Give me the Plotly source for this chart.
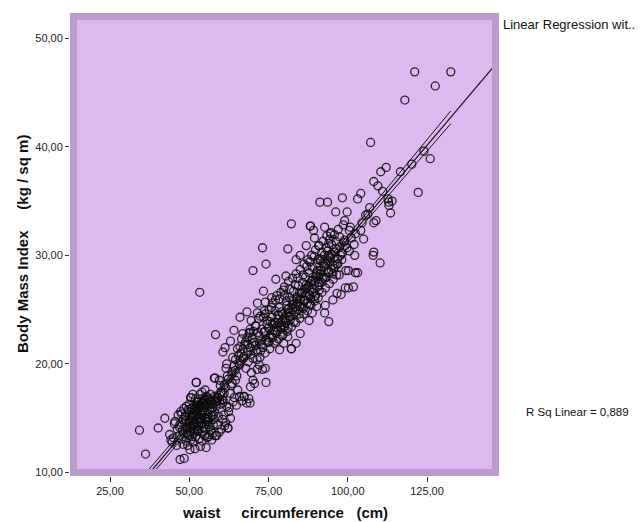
import numpy as np
import plotly.graph_objects as go

# ---- data: waist circumference (cm) and BMI (kg/sq m) ----
waist = [
    34.3, 36.2, 40.2, 42.3, 43.8, 44.6, 45.3, 45.0, 44.2, 46.0,
    47.1, 48.4, 50.2, 51.8, 53.5, 55.3, 46.8, 47.5, 48.0, 49.0,
    49.6, 50.5, 51.2, 52.0, 52.6, 53.1, 54.0, 54.8, 55.6, 56.4,
    46.2, 47.0, 47.8, 48.5, 49.3, 50.0, 50.8, 51.5, 52.3, 53.0,
    53.8, 54.5, 55.2, 56.0, 56.8, 57.5, 58.2, 48.8, 49.8, 50.7,
    51.3, 52.1, 52.8, 53.6, 54.3, 55.0, 55.8, 56.5, 57.2, 58.0,
    47.6, 48.3, 49.1, 50.0, 50.9, 51.7, 52.5, 53.3, 54.1, 54.9,
    55.7, 56.6, 57.4, 58.3, 59.1, 59.9, 60.7, 50.4, 51.1, 52.0,
    52.9, 53.7, 54.6, 55.4, 56.2, 57.0, 57.9, 58.7, 59.6, 60.4,
    49.4, 50.3, 51.4, 52.4, 53.2, 54.2, 55.1, 56.0, 45.5, 46.5,
    47.3, 48.1, 49.0, 51.0, 52.7, 54.5, 56.3, 57.8, 59.0, 61.2,
    57.1, 58.6, 59.4, 60.2, 61.5, 62.2, 63.0, 62.4, 60.9, 61.8,
    52.2, 53.4, 52.0, 50.6, 54.0, 55.5, 46.9, 48.6, 58.5, 57.6,
    62.6, 63.8, 64.9, 65.8, 66.6, 67.3, 68.1, 69.2, 68.8, 64.2,
    62.2, 60.5, 61.0, 59.8, 58.1, 56.7, 55.0, 53.9, 51.9, 50.1,
    60.6, 61.3, 63.0, 64.1, 65.0, 66.0, 66.3, 66.9, 68.2, 69.2,
    70.1, 71.4, 72.1, 71.4, 73.1, 74.0, 69.2, 70.8, 62.0, 63.5,
    64.6, 65.7, 67.2, 67.9, 68.6, 69.6, 58.3, 64.1, 66.0, 67.3,
    68.2, 70.1, 70.6, 74.2, 52.2, 57.9, 69.3, 72.5, 61.8, 63.2,
    70.5, 71.2, 72.0, 72.8, 73.5, 74.3, 75.0, 75.8, 76.5, 77.3,
    78.0, 78.8, 79.5, 80.3, 81.0, 81.8, 82.5, 83.3, 84.0, 84.8,
    85.5, 86.3, 87.0, 87.8, 88.5, 89.3, 90.0, 90.8, 91.5, 92.3,
    93.0, 93.8, 94.5, 95.3, 96.0, 96.8, 97.5, 98.3, 99.0, 99.8,
    71.0, 72.4, 73.7, 75.2, 76.2, 77.6, 78.9, 80.0, 81.3, 82.6,
    83.7, 85.0, 86.2, 87.4, 88.6, 89.8, 91.0, 92.2, 93.4, 94.6,
    72.3, 73.9, 75.4, 76.8, 78.2, 79.6, 80.9, 82.2, 83.6, 84.9,
    86.1, 87.3, 88.4, 89.6, 90.7, 91.9, 93.0, 94.2, 95.4, 96.5,
    74.6, 76.0, 77.0, 78.4, 79.2, 80.6, 81.6, 82.9, 84.4, 85.7,
    86.7, 87.7, 88.9, 90.3, 91.2, 92.6, 93.6, 94.9, 96.2, 97.4,
    73.2, 74.8, 76.3, 77.8, 79.0, 80.4, 81.9, 83.0, 84.3, 85.3,
    86.5, 88.0, 89.1, 90.5, 91.7, 92.8, 94.0, 95.6, 96.9, 98.1,
    73.1, 74.2, 70.1, 81.1, 82.2, 77.3, 80.5, 73.4, 71.5, 74.0,
    76.0, 79.8, 71.5, 69.5, 68.9, 83.7, 85.0, 86.9, 88.2, 89.2,
    89.5, 91.2, 93.6, 92.7, 94.6, 94.0, 90.8, 87.8, 88.8, 90.2,
    92.7, 94.0, 92.9, 95.3, 96.6, 97.9, 99.2, 100.2, 101.8, 99.4,
    100.2, 102.4, 103.1, 102.2, 108.2, 108.0, 110.2, 85.0, 83.7, 82.2,
    81.1, 78.5, 79.8, 98.3, 99.8, 96.2, 99.0, 100.5, 102.4, 104.1,
    105.0, 104.1, 103.1, 105.6, 106.9, 108.2, 108.9, 101.1, 99.2, 100.5,
    97.9, 96.6, 95.3, 97.3, 107.2, 112.1, 110.4, 108.2, 109.5, 112.7,
    112.9, 113.5, 116.6, 120.2, 124.0, 126.0, 122.2, 118.0, 121.1, 127.6,
    132.5, 53.3, 82.2, 88.2, 114.0, 113.0, 106.3, 111.0, 104.5, 102.0,
    75.5, 76.7, 77.9, 79.1, 80.2, 81.4, 82.7, 83.9, 85.1, 86.4,
    87.6, 88.8, 90.1, 91.3, 92.5, 93.7, 95.0, 96.3, 97.7, 98.8,
    77.5, 79.3, 81.2, 83.1, 84.6, 86.0, 87.2, 88.3, 89.9, 91.0,
    74.0, 75.9, 77.2, 78.6, 80.0, 81.7, 83.4, 84.2, 85.9, 87.1,
    88.0, 89.4, 90.6, 91.8, 93.2, 94.4, 95.8, 97.0, 98.6, 100.8,
    65.5, 67.0, 68.5, 69.9, 71.7, 72.9, 74.5, 66.1, 67.7, 69.4,
    70.9, 72.6, 73.8, 75.1, 76.4, 77.6, 78.9, 80.1, 81.5, 82.8,
    84.1, 85.6, 86.8, 88.1, 89.5, 90.9, 92.0, 93.3, 94.7, 96.0,
    49.9, 50.8, 51.6, 52.4, 53.2, 54.0, 54.8, 55.6, 52.6, 53.9,
    48.2, 49.5, 50.9, 51.9, 53.0, 54.4, 55.9, 57.3, 58.8, 60.1,
    56.1, 57.6, 59.2, 60.6, 61.4, 62.9, 63.6, 64.6, 65.3, 59.6,
    49.2, 50.1, 51.0, 51.8, 52.6, 53.4, 54.2, 55.0, 55.8, 56.6,
    50.6, 51.5, 52.3, 53.1, 53.9, 54.7, 49.7, 48.9, 56.3, 57.0,
    58.9, 60.0, 61.1, 62.3, 63.4, 64.5, 65.9, 67.0, 68.4, 69.7,
    59.5, 61.6, 63.7, 65.2, 66.5, 67.6, 69.0, 70.3, 71.9, 73.4,
    76.1, 78.3, 80.8, 82.4, 84.8, 86.9, 89.0, 90.4, 92.1, 94.3,
    75.3, 77.1, 79.9, 81.5, 83.8, 85.4, 87.9, 89.7, 91.4, 93.9,
]
bmi = [
    13.9, 11.7, 14.1, 15.0, 13.5, 12.8, 14.5, 13.2, 13.0, 12.5,
    11.2, 11.3, 12.1, 12.2, 12.4, 12.3, 13.4, 13.1, 12.6, 12.9,
    13.5, 13.0, 12.8, 13.3, 13.8, 13.1, 12.9, 13.4, 13.2, 13.5,
    14.0, 14.4, 13.9, 14.6, 14.2, 14.8, 14.1, 14.5, 14.9, 14.3,
    14.6, 14.2, 14.9, 14.4, 13.9, 13.6, 13.4, 15.2, 15.6, 15.0,
    15.5, 15.2, 15.8, 15.3, 15.7, 15.1, 15.4, 15.9, 15.2, 15.6,
    15.4, 15.9, 16.1, 16.3, 15.9, 16.2, 16.5, 16.0, 16.4, 16.7,
    16.2, 16.6, 16.0, 16.5, 16.9, 16.3, 16.7, 16.9, 17.2, 16.8,
    16.5, 16.2, 16.7, 16.3, 16.8, 16.5, 17.0, 16.6, 17.1, 16.7,
    13.7, 14.3, 13.6, 14.0, 15.0, 13.8, 14.0, 14.7, 14.7, 15.3,
    15.6, 14.9, 14.8, 15.4, 14.0, 16.0, 15.0, 14.9, 14.4, 14.3,
    13.0, 13.4, 13.7, 14.0, 14.6, 14.1, 15.0, 15.6, 15.3, 16.1,
    18.3, 17.2, 15.6, 16.9, 17.4, 17.0, 14.2, 15.1, 16.1, 15.3,
    16.0, 16.5, 16.2, 17.0, 16.6, 17.0, 16.4, 16.4, 16.8, 16.9,
    14.1, 14.9, 17.3, 18.0, 18.7, 17.2, 17.6, 16.8, 14.6, 13.4,
    21.1, 21.5, 22.1, 19.8, 18.9, 21.6, 21.0, 22.8, 22.4, 21.5,
    20.5, 20.4, 19.9, 19.5, 19.5, 19.6, 23.2, 23.5, 18.9, 19.3,
    20.4, 20.0, 20.7, 19.6, 20.2, 19.2, 22.7, 23.1, 24.3, 17.0,
    24.8, 18.5, 18.2, 18.3, 18.3, 18.7, 17.9, 21.2, 20.0, 18.0,
    22.0, 21.3, 22.6, 21.8, 22.9, 22.2, 23.3, 22.5, 23.6, 22.9,
    24.1, 23.4, 24.6, 24.0, 25.0, 24.4, 25.5, 24.8, 26.0, 25.3,
    26.5, 25.8, 27.0, 26.4, 27.6, 26.9, 28.1, 27.5, 28.6, 28.0,
    29.2, 28.5, 29.8, 29.1, 30.3, 29.7, 30.8, 30.2, 31.4, 30.7,
    23.5, 24.4, 24.9, 25.0, 25.6, 26.3, 26.6, 27.1, 27.6, 27.9,
    28.3, 28.7, 29.2, 29.6, 30.0, 30.5, 30.9, 31.3, 31.8, 32.1,
    20.6, 21.0, 21.4, 21.9, 22.3, 22.7, 23.0, 23.4, 23.8, 24.2,
    24.6, 24.9, 25.4, 25.8, 26.1, 26.6, 27.0, 27.4, 27.8, 28.2,
    24.0, 24.3, 24.9, 25.2, 23.6, 25.8, 26.1, 26.7, 27.2, 27.5,
    28.0, 28.4, 28.9, 29.3, 29.7, 30.0, 30.4, 31.0, 31.3, 31.7,
    21.5, 22.0, 22.4, 23.0, 23.2, 23.8, 24.1, 24.5, 25.0, 25.5,
    25.9, 26.3, 26.6, 27.1, 27.5, 27.9, 28.4, 28.8, 29.2, 29.6,
    30.7, 29.2, 28.6, 30.6, 32.9, 27.8, 28.1, 26.7, 25.6, 25.7,
    26.1, 26.8, 24.7, 24.0, 22.8, 29.6, 30.0, 30.9, 32.7, 32.3,
    31.6, 34.9, 34.9, 32.6, 32.0, 31.1, 30.9, 24.0, 24.7, 25.3,
    24.7, 23.9, 25.4, 25.9, 26.5, 26.4, 27.0, 27.0, 27.1, 28.6,
    28.6, 28.4, 28.4, 30.0, 30.3, 30.0, 29.3, 22.8, 21.9, 21.4,
    22.5, 21.3, 21.9, 35.3, 34.0, 34.0, 33.2, 32.3, 32.0, 32.3,
    31.5, 35.7, 35.2, 33.7, 34.4, 33.0, 33.2, 31.6, 30.9, 30.4,
    30.2, 29.2, 28.3, 28.2, 40.4, 38.1, 37.7, 36.8, 36.4, 35.2,
    34.9, 33.9, 37.7, 38.4, 39.6, 38.9, 35.8, 44.3, 46.9, 45.6,
    46.9, 26.6, 21.4, 32.7, 35.0, 34.6, 33.8, 35.9, 33.0, 31.0,
    23.9, 23.1, 24.5, 24.8, 24.2, 25.1, 25.0, 26.2, 26.0, 26.9,
    27.2, 27.7, 28.4, 28.3, 29.0, 29.5, 30.1, 30.6, 30.0, 31.2,
    22.1, 22.6, 23.3, 23.9, 24.6, 25.1, 25.6, 26.0, 26.3, 26.8,
    24.6, 25.2, 25.9, 26.0, 26.3, 26.9, 27.3, 27.9, 28.2, 29.0,
    29.4, 29.9, 29.6, 30.3, 30.7, 31.5, 31.9, 32.4, 32.8, 32.6,
    20.8, 21.4, 21.8, 22.4, 22.9, 23.2, 23.7, 20.3, 22.0, 20.9,
    21.7, 22.1, 23.0, 22.0, 22.7, 23.4, 23.8, 23.5, 24.7, 25.8,
    25.6, 25.2, 26.3, 25.5, 26.2, 27.3, 27.8, 28.0, 28.7, 29.0,
    14.5, 15.3, 14.4, 15.7, 14.7, 15.5, 14.5, 14.7, 16.0, 16.2,
    13.6, 12.5, 13.3, 15.9, 16.2, 16.4, 16.7, 16.3, 16.6, 17.4,
    13.3, 14.4, 15.2, 16.4, 17.8, 17.3, 18.2, 18.5, 17.6, 16.6,
    14.0, 14.6, 15.1, 14.2, 15.4, 14.9, 16.0, 15.6, 15.0, 16.3,
    15.9, 13.8, 16.2, 13.9, 15.0, 16.5, 15.8, 14.1, 14.2, 15.8,
    16.9, 17.4, 18.1, 18.6, 19.0, 19.4, 19.9, 20.5, 21.1, 21.9,
    18.5, 19.6, 20.6, 21.4, 22.3, 21.8, 22.9, 23.0, 24.2, 24.3,
    23.7, 24.5, 25.4, 25.9, 26.6, 27.3, 28.0, 28.6, 29.3, 29.9,
    22.4, 23.8, 23.4, 24.3, 25.3, 26.5, 26.8, 27.6, 29.5, 30.0,
]

x_tickvals = [25, 50, 75, 100, 125]
x_ticktext = ["25,00", "50,00", "75,00", "100,00", "125,00"]
y_tickvals = [10, 20, 30, 40, 50]
y_ticktext = ["10,00", "20,00", "30,00", "40,00", "50,00"]
r_sq_label = "R Sq Linear = 0,889"
legend_label = "Linear Regression wit.."

# ---- regression and 95% mean confidence band ----
xa = np.array(waist)
ya = np.array(bmi)
n = len(xa)
slope, intercept = np.polyfit(xa, ya, 1)
resid = ya - (intercept + slope * xa)
s = np.sqrt(np.sum(resid ** 2) / (n - 2))
xbar = xa.mean()
sxx = np.sum((xa - xbar) ** 2)
t = 1.965

x_rng = [12.38, 147.7]
y_rng = [9.68, 52.32]

x_fit = np.array(x_rng)
y_fit = intercept + slope * x_fit
x_ci = np.linspace(xa.min(), xa.max(), 60)
half = t * s * np.sqrt(1 / n + (x_ci - xbar) ** 2 / sxx)
y_mid = intercept + slope * x_ci

fig = go.Figure()
fig.add_trace(go.Scatter(
    x=waist, y=bmi, mode="markers",
    marker=dict(symbol="circle-open", size=8, color="rgba(10,10,10,0.85)",
                line=dict(width=1.3, color="rgba(10,10,10,0.85)")),
    showlegend=False, hoverinfo="skip"))
for yy in (y_mid + half, y_mid - half):
    fig.add_trace(go.Scatter(x=x_ci, y=yy, mode="lines",
                             line=dict(color="#111111", width=1), showlegend=False))
fig.add_trace(go.Scatter(x=x_fit, y=y_fit, mode="lines",
                         line=dict(color="#111111", width=1.2), showlegend=False))

# page body has an 8px margin: figure origin sits at screen (8, 8)
OFF = 8
W, H = 643 - OFF, 522 - OFF
PX0, PX1, PY0, PY1 = 70, 499, 13, 476  # plot frame on screen
ml, mr, mt, mb = PX0 - OFF, W - (PX1 - OFF), PY0 - OFF, H - (PY1 - OFF)
pw, ph = PX1 - PX0, PY1 - PY0


def px(sx):
    return (sx - PX0) / pw


def py(sy):
    return (PY1 - sy) / ph


bw = 7
fig.add_shape(type="rect", xref="paper", yref="paper",
              x0=(bw / 2) / pw, x1=1 - (bw / 2) / pw,
              y0=(bw / 2) / ph, y1=1 - (bw / 2) / ph,
              line=dict(color="#BB9CCB", width=bw), fillcolor="rgba(0,0,0,0)",
              layer="above")

tick_font = dict(family="Liberation Sans, Arial, sans-serif", size=11, color="#222222")
fig.update_layout(
    width=W, height=H, margin=dict(l=ml, r=mr, t=mt, b=mb, pad=0),
    paper_bgcolor="white", plot_bgcolor="#DEB9F1",
    xaxis=dict(range=x_rng, tickvals=x_tickvals, ticktext=x_ticktext,
               showgrid=False, zeroline=False, showline=False,
               ticks="outside", ticklen=5, tickcolor="#333333", tickwidth=1,
               tickfont=tick_font),
    yaxis=dict(range=y_rng, tickvals=y_tickvals, ticktext=y_ticktext,
               showgrid=False, zeroline=False, showline=False,
               ticks="outside", ticklen=4, tickcolor="#333333", tickwidth=1,
               tickfont=tick_font),
    showlegend=False,
)

nb = "\u00a0"
title_font = dict(family="Liberation Sans, Arial, sans-serif", size=15, color="#111111")
fig.add_annotation(text="<b>waist" + nb * 5 + "circumference" + nb * 3 + "(cm)</b>",
                   xref="paper", yref="paper", x=px(285), y=py(512),
                   xanchor="center", yanchor="middle", showarrow=False, font=title_font)
fig.add_annotation(text="<b>Body Mass Index" + nb * 5 + "(kg / sq m)</b>", textangle=-90,
                   xref="paper", yref="paper", x=px(22), y=py(244),
                   xanchor="center", yanchor="middle", showarrow=False, font=title_font)
fig.add_annotation(text=legend_label, xref="paper", yref="paper",
                   x=px(501), y=py(24),
                   xanchor="left", yanchor="middle", showarrow=False,
                   font=dict(family="Liberation Sans, Arial, sans-serif", size=13, color="#111111"))
fig.add_annotation(text=r_sq_label, xref="paper", yref="paper",
                   x=px(524), y=py(412),
                   xanchor="left", yanchor="middle", showarrow=False,
                   font=dict(family="Liberation Sans, Arial, sans-serif", size=11.5, color="#111111"))

assert len(waist) == len(bmi)
fig.write_html("out.html")
